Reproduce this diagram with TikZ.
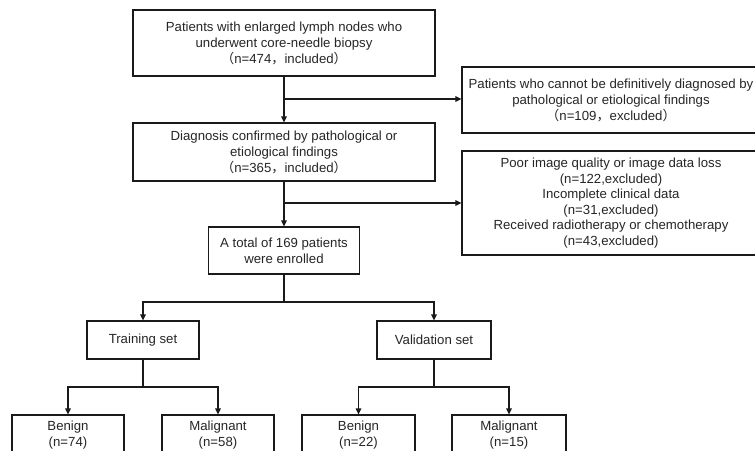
\documentclass[tikz,border=0pt]{standalone}
\usepackage{fontspec}
\setmainfont{Liberation Sans}
\newfontfamily\cjkfont{Noto Sans CJK SC}
\usetikzlibrary{arrows.meta}
\newcommand{\flp}{{\cjkfont （}}
\newcommand{\frp}{{\cjkfont ）}}
\newcommand{\fcm}{{\cjkfont ，}}
\definecolor{txt}{HTML}{262626}
\definecolor{ln}{HTML}{1A1A1A}
\tikzset{
  box/.style={draw=ln, line width=1.1pt, align=center, inner sep=0pt, text=txt,
    font=\fontsize{13.2}{16}\selectfont},
  arr/.style={draw=ln, line width=1.1pt, -{Triangle[length=6pt,width=5.5pt]}},
  ln/.style={draw=ln, line width=1.1pt}
}
\begin{document}
\begin{tikzpicture}[x=1pt,y=-1pt]
\useasboundingbox (0,0) rectangle (755,450);
\fill[white] (0,0) rectangle (755,450);
\clip (0,0) rectangle (755,450);

\node[box, minimum width=302pt, minimum height=66pt] (top) at (284,43)
  {Patients with enlarged lymph nodes who\\underwent core-needle biopsy\\\flp n=474\fcm included\frp};
\node[box, minimum width=302pt, minimum height=58pt] (diag) at (284,152)
  {Diagnosis confirmed by pathological or\\etiological findings\\\flp n=365\fcm included\frp};
\node[box, minimum width=298pt, minimum height=66pt] (ex1) at (611,100)
  {Patients who cannot be definitively diagnosed by\\pathological or etiological findings\\\flp n=109\fcm excluded\frp};
\node[box, minimum width=298pt, minimum height=104pt, font=\fontsize{13.2}{15.6}\selectfont] (ex2) at (611,203)
  {Poor image quality or image data loss\\(n=122,excluded)\\Incomplete clinical data\\(n=31,excluded)\\Received radiotherapy or chemotherapy\\(n=43,excluded)};
\node[box, minimum width=151pt, minimum height=47pt] (tot) at (284,250.5)
  {A total of 169 patients\\were enrolled};
\node[box, minimum width=112pt, minimum height=38pt] (train) at (143,340) {Training set};
\node[box, minimum width=114pt, minimum height=38pt] (valid) at (434,340) {Validation set};
\node[box, minimum width=112pt, minimum height=40pt] (b1) at (68,435) {Benign\\(n=74)};
\node[box, minimum width=112pt, minimum height=40pt] (m1) at (218,435) {Malignant\\(n=58)};
\node[box, minimum width=113pt, minimum height=40pt] (b2) at (358.5,435) {Benign\\(n=22)};
\node[box, minimum width=114pt, minimum height=40pt] (m2) at (509,435) {Malignant\\(n=15)};

\coordinate (s1) at (284,99);
\coordinate (s2) at (284,203);
\coordinate (s3) at (284,302);
\coordinate (s4) at (143,387);
\coordinate (s5) at (434,387);

\draw[arr] (top.south) -- (diag.north);
\draw[arr] (s1) -- (s1 -| ex1.west);
\draw[arr] (diag.south) -- (tot.north);
\draw[arr] (s2) -- (s2 -| ex2.west);
\draw[ln] (tot.south) -- (s3);
\draw[arr] (s3) -| (train.north);
\draw[arr] (s3) -| (valid.north);
\draw[ln] (train.south) -- (s4);
\draw[arr] (s4) -| (b1.north);
\draw[arr] (s4) -| (m1.north);
\draw[ln] (valid.south) -- (s5);
\draw[arr] (s5) -| (b2.north);
\draw[arr] (s5) -| (m2.north);
\end{tikzpicture}
\end{document}
